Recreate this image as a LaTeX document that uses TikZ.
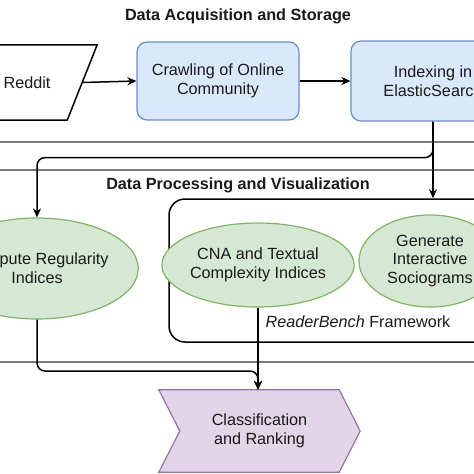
\documentclass[tikz,border=0pt]{standalone}
\usepackage{fontspec}
\setmainfont{Liberation Sans}
\usetikzlibrary{arrows.meta,shapes.geometric,backgrounds}
\definecolor{bluefill}{HTML}{DAE8FC}
\definecolor{bluedraw}{HTML}{6C8EBF}
\definecolor{greenfill}{HTML}{D5E8D4}
\definecolor{greendraw}{HTML}{82B366}
\definecolor{purplefill}{HTML}{E1D5E7}
\definecolor{purpledraw}{HTML}{9673A6}
\definecolor{lanegray}{HTML}{7A7A7A}
\definecolor{txtc}{HTML}{1A1A1A}
\begin{document}
\begin{tikzpicture}[x=1pt,y=-1pt,
  every node/.style={font=\fontsize{16.2}{18.8}\selectfont, text=txtc, align=center, inner sep=0pt},
  title/.style={font=\bfseries\fontsize{16.2}{18.8}\selectfont},
  procbox/.style={draw=bluedraw, fill=bluefill, line width=1.2pt, rounded corners=10pt, minimum width=162, minimum height=78},
  ellip/.style={ellipse, draw=greendraw, fill=greenfill, line width=1.2pt},
  frame/.style={draw=black, line width=1.5pt, rounded corners=16pt},
  conn/.style={draw=black, line width=1.5pt, -{Stealth[length=9pt,width=8pt]}},
  lane/.style={draw=lanegray, line width=1.3pt}
]
\useasboundingbox (0,0) rectangle (474,474);
\clip (0,0) rectangle (474,474);

% lane separators
\coordinate (l1a) at (-5,142); \coordinate (l1b) at (480,142);
\coordinate (l2a) at (-5,170); \coordinate (l2b) at (480,170);
\coordinate (l3a) at (-5,362); \coordinate (l3b) at (480,362);
\draw[lane] (l1a) -- (l1b);
\draw[lane] (l2a) -- (l2b);
\draw[lane] (l3a) -- (l3b);

% titles
\node[title] (t1) at (238,16) {Data Acquisition and Storage};
\node[title] (t2) at (238,185) {Data Processing and Visualization};

% lane 1
\node[minimum width=110, minimum height=75] (reddit) at (27,82.5) {Reddit};
\begin{scope}[on background layer]
\draw[line width=1.5pt, fill=white, line join=round]
  ([xshift=15pt]reddit.north west) -- ([xshift=15pt]reddit.north east)
  -- ([xshift=-15pt]reddit.south east) -- ([xshift=-15pt]reddit.south west) -- cycle;
\end{scope}
\node[procbox] (crawl) at (218,81) {Crawling of Online\\Community};
\node[procbox, minimum width=164, minimum height=80] (index) at (433,81) {Indexing in\\ElasticSearch};

\draw[conn] (reddit.east) -- (crawl.west);
\draw[conn] (crawl.east) -- (index.west);

% lane 2
\node[frame, minimum width=351, minimum height=143] (rb) at (344.5,270.5) {};
\node (rblabel) at (358,322) {\textit{ReaderBench} Framework};

\node[ellip, minimum width=160, minimum height=101] (reg) at (37,268.5) {Compute Regularity\\Indices};
\node[ellip, minimum width=143, minimum height=84] (cna) at (258,265) {CNA and Textual\\Complexity Indices};
\node[ellip, minimum width=142, minimum height=92] (soc) at (430,261) {Generate\\Interactive\\Sociograms};

\draw[conn] (index.south) -- (index.south |- rb.north);
\draw[conn, rounded corners=8pt] (index.south) -- ++(0,36) -| (reg.north);

% lane 3
\node[minimum width=201, minimum height=82] (cls) at (259.5,431) {Classification\\and Ranking};
\begin{scope}[on background layer]
\draw[draw=purpledraw, fill=purplefill, line width=1.2pt, line join=miter]
  (cls.north west) -- ([xshift=-21pt]cls.north east) -- (cls.east)
  -- ([xshift=-21pt]cls.south east) -- (cls.south west)
  -- ([xshift=21pt]cls.west) -- cycle;
\end{scope}

\coordinate (clsin) at (cna.south |- cls.north);
\draw[conn] (cna.south) -- (clsin);
\draw[conn, rounded corners=8pt] (reg.south) -- (reg.south |- 0,371) -| (clsin);
\end{tikzpicture}
\end{document}
